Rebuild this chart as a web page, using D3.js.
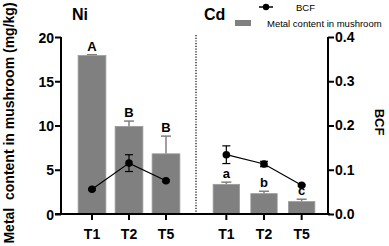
<!DOCTYPE html>
<html>
<head>
<meta charset="utf-8">
<script src="https://cdn.jsdelivr.net/npm/d3@7"></script>
<style>
    body { margin: 0; background: #fff; }
    svg { display: block; font-family: "Liberation Sans", Arial, sans-serif; }
    .axis path, .axis line { stroke: #000; stroke-width: 2; }
    .axis text { font-size: 14px; font-weight: bold; fill: #000; }
</style>
</head>
<body>
<script>
// data
const treatments = ['T1', 'T2', 'T5'];
const niContent = [17.9, 9.9, 6.8];
const niContentErr = [0.1, 0.6, 2.0];
const niLetters = ['A', 'B', 'B'];
const niBCF = [0.056, 0.115, 0.075];
const niBCFErr = [0.002, 0.019, 0.002];
const cdContent = [3.35, 2.3, 1.4];
const cdContentErr = [0.25, 0.27, 0.27];
const cdLetters = ['a', 'b', 'c'];
const cdBCF = [0.134, 0.113, 0.065];
const cdBCFErr = [0.02, 0.006, 0.002];
const leftTicks = [0, 5, 10, 15, 20];
const rightTicks = [0, 0.1, 0.2, 0.3, 0.4];

const width = 389, height = 246;
const barColor = '#808080';

let svg = d3.select('body').append('svg')
    .attr('width', width)
    .attr('height', height);

let yLeft = d3.scaleLinear().domain([0, 20]).range([214, 37]);
let yRight = d3.scaleLinear().domain([0, 0.4]).range([214, 37]);

let xNi = d3.scaleBand().domain(treatments).range([73.5, 184.5]).paddingInner(0.25).paddingOuter(0.125);
let xCd = d3.scaleBand().domain(treatments).range([207.5, 320.5]).paddingInner(0.3).paddingOuter(0.15);

function drawGroup(x, content, contentErr, letters, bcf, bcfErr){
    let g = svg.append('g');
    let rows = treatments.map((t, i) => ({t: t, v: content[i], e: contentErr[i], l: letters[i], b: bcf[i], be: bcfErr[i]}));

    // error bars (upward only) behind bars
    let cap = 5;
    g.selectAll('line.err').data(rows).enter().append('line')
        .attr('x1', d => x(d.t) + x.bandwidth()/2)
        .attr('x2', d => x(d.t) + x.bandwidth()/2)
        .attr('y1', d => yLeft(d.v))
        .attr('y2', d => yLeft(d.v + d.e))
        .attr('stroke', barColor).attr('stroke-width', 1.5);
    g.selectAll('line.cap').data(rows).enter().append('line')
        .attr('x1', d => x(d.t) + x.bandwidth()/2 - cap)
        .attr('x2', d => x(d.t) + x.bandwidth()/2 + cap)
        .attr('y1', d => yLeft(d.v + d.e))
        .attr('y2', d => yLeft(d.v + d.e))
        .attr('stroke', barColor).attr('stroke-width', 1.5);

    g.selectAll('rect').data(rows).enter().append('rect')
        .attr('x', d => x(d.t))
        .attr('y', d => yLeft(d.v))
        .attr('width', x.bandwidth())
        .attr('height', d => yLeft(0) - yLeft(d.v))
        .attr('fill', barColor)
        .attr('stroke', '#9a9a9a').attr('stroke-width', 0.8);

    g.selectAll('text.letter').data(rows).enter().append('text')
        .attr('x', d => x(d.t) + x.bandwidth()/2)
        .attr('y', d => yLeft(d.v + d.e) - 4)
        .attr('text-anchor', 'middle')
        .style('font-size', '13px').style('font-weight', 'bold')
        .text(d => d.l);

    // BCF line
    g.append('path')
        .datum(rows)
        .attr('fill', 'none').attr('stroke', '#000').attr('stroke-width', 1.2)
        .attr('d', d3.line().x(d => x(d.t) + x.bandwidth()/2).y(d => yRight(d.b)));
    let capB = 4;
    rows.forEach(d => {
        let cx = x(d.t) + x.bandwidth()/2;
        g.append('line').attr('x1', cx).attr('x2', cx)
            .attr('y1', yRight(d.b - d.be)).attr('y2', yRight(d.b + d.be))
            .attr('stroke', '#000').attr('stroke-width', 1.2);
        [d.b - d.be, d.b + d.be].forEach(v => {
            g.append('line').attr('x1', cx - capB).attr('x2', cx + capB)
                .attr('y1', yRight(v)).attr('y2', yRight(v))
                .attr('stroke', '#000').attr('stroke-width', 1.2);
        });
    });
    g.selectAll('circle').data(rows).enter().append('circle')
        .attr('cx', d => x(d.t) + x.bandwidth()/2)
        .attr('cy', d => yRight(d.b))
        .attr('r', 3.8)
        .attr('fill', '#000');
}

drawGroup(xNi, niContent, niContentErr, niLetters, niBCF, niBCFErr);
drawGroup(xCd, cdContent, cdContentErr, cdLetters, cdBCF, cdBCFErr);

// x axis baseline
svg.append('line')
    .attr('x1', 55).attr('x2', 330)
    .attr('y1', yLeft(0)).attr('y2', yLeft(0))
    .attr('stroke', '#000').attr('stroke-width', 2);

let xAxisNi = svg.append('g').classed('axis', true)
    .attr('transform', `translate(0,${yLeft(0)})`)
    .call(d3.axisBottom(xNi).tickSize(6).tickPadding(9));
let xAxisCd = svg.append('g').classed('axis', true)
    .attr('transform', `translate(0,${yLeft(0)})`)
    .call(d3.axisBottom(xCd).tickSize(6).tickPadding(9));
xAxisNi.select('.domain').remove();
xAxisCd.select('.domain').remove();

// left axis
let yAxisL = svg.append('g').classed('axis', true)
    .attr('transform', 'translate(61,0)')
    .call(d3.axisLeft(yLeft).tickValues(leftTicks).tickSize(6).tickSizeOuter(0).tickPadding(1));
yAxisL.select('.domain').attr('d', `M0,${yLeft(0)}V${yLeft(20)}`);
yAxisL.selectAll('.tick text').attr('dy', '0.36em');

// right axis
let yAxisR = svg.append('g').classed('axis', true)
    .attr('transform', 'translate(328,0)')
    .call(d3.axisRight(yRight).tickValues(rightTicks).tickFormat(d3.format('.1f')).tickSize(6).tickSizeOuter(0).tickPadding(1));
yAxisR.select('.domain').attr('d', `M0,${yLeft(0)}V${yLeft(20)}`);

// dotted separator
svg.append('line')
    .attr('x1', 196).attr('x2', 196)
    .attr('y1', 35).attr('y2', yLeft(0))
    .attr('stroke', '#000').attr('stroke-width', 1.2)
    .attr('stroke-dasharray', '1.2,1.5');

// group titles
svg.append('text').attr('x', 72).attr('y', 20)
    .style('font-size', '16px').style('font-weight', 'bold').text('Ni');
svg.append('text').attr('x', 204).attr('y', 20)
    .style('font-size', '16px').style('font-weight', 'bold').text('Cd');

// axis titles
svg.append('text')
    .attr('transform', 'translate(14,123) rotate(-90)')
    .attr('text-anchor', 'middle')
    .style('font-size', '14px').style('font-weight', 'bold')
    .style('white-space', 'pre')
    .text('Metal  content in mushroom (mg/kg)');
svg.append('text')
    .attr('transform', 'translate(375,122) rotate(90)')
    .attr('text-anchor', 'middle')
    .style('font-size', '13px').style('font-weight', 'bold')
    .text('BCF');

// legend
let legend = svg.append('g');
legend.append('line').attr('x1', 259).attr('x2', 273).attr('y1', 7).attr('y2', 7)
    .attr('stroke', '#000').attr('stroke-width', 1.5);
legend.append('circle').attr('cx', 266).attr('cy', 7).attr('r', 3.2).attr('fill', '#000');
legend.append('text').attr('x', 296).attr('y', 10.5)
    .style('font-size', '9.5px').text('BCF');
legend.append('rect').attr('x', 235).attr('y', 20).attr('width', 16).attr('height', 6)
    .attr('fill', barColor);
legend.append('text').attr('x', 267).attr('y', 27)
    .style('font-size', '9.5px').text('Metal content in mushroom');
</script>
</body>
</html>
